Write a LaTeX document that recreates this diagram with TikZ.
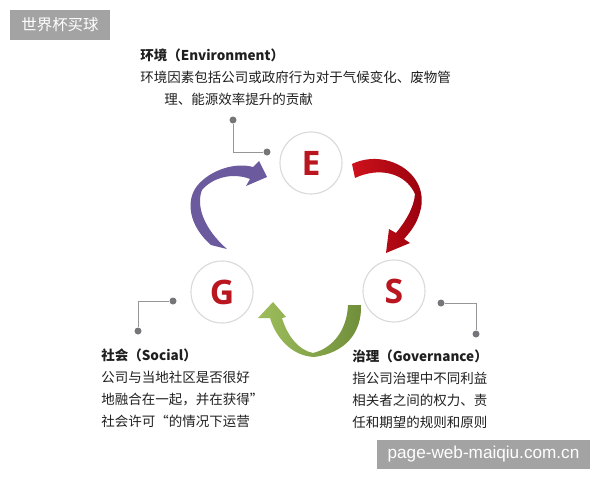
\documentclass[tikz,border=0pt]{standalone}
\usepackage{fontspec}
\usepackage{xcolor}
\newfontfamily\cjk{Noto Sans CJK SC}
\newfontfamily\letterfont{Open Sans}
\newfontfamily\webfont{Liberation Sans}
\definecolor{esgred}{RGB}{185,22,32}
\definecolor{ringgray}{RGB}{218,218,218}
\definecolor{leadgray}{RGB}{150,150,150}
\definecolor{dotgray}{RGB}{118,118,122}
\definecolor{markgray}{RGB}{163,163,163}
\definecolor{esgpurple}{RGB}{108,90,158}
\definecolor{redlight}{RGB}{205,18,28}
\definecolor{reddark}{RGB}{150,0,12}
\definecolor{greenlight}{RGB}{158,190,92}
\definecolor{greendark}{RGB}{112,142,58}
\tikzstyle{esg state}=[
    draw = ringgray,
    line width = 0.8pt,
    fill = white,
    minimum size = 15.5mm,
    circle,
    text = esgred,
    font = \letterfont\bfseries\fontsize{24}{24}\selectfont
]

\begin{document}
\begin{tikzpicture}[x=0.025cm, y=-0.025cm,
    dot/.style = {fill=dotgray, circle, inner sep=0pt, minimum size=1.75mm},
    lead/.style = {draw=leadgray, line width=0.7pt},
    info/.style = {anchor=north west, inner sep=0pt, align=left, text=black!88,
                   font=\cjk\fontsize{9.6}{15.6}\selectfont},
    markbox/.style = {fill=markgray, text=white, inner sep=0pt}]
        \useasboundingbox (0,0) rectangle (600,480);

        \node[markbox, minimum width=25mm, minimum height=7.5mm,
              font=\cjk\fontsize{11}{11}\selectfont] (mark1) at (60,25) {世界杯买球};
        \node[markbox, minimum width=53.3mm, minimum height=7.3mm,
              font=\webfont\fontsize{12.2}{12.2}\selectfont] (mark2) at (483.5,454.5) {page-web-maiqiu.com.cn};

        \node[esg state] (e) at (311,163) {E};
        \node[esg state] (s) at (394,291) {S};
        \node[esg state] (g) at (222,292) {G};

        \node[dot] (e1) at (233,120) {};
        \node[dot] (e2) at (267,152) {};
        \node[dot] (g1) at (173,301) {};
        \node[dot] (g2) at (138,331) {};
        \node[dot] (s1) at (441,303) {};
        \node[dot] (s2) at (476,334) {};
        \draw[lead] (e1) |- (e2);
        \draw[lead] (g1) -| (g2);
        \draw[lead] (s1) -| (s2);

        \path[left color=redlight, right color=reddark]
            (352,164) .. controls (385,148) and (428,172) .. (421,208)
            .. controls (418,222) and (412,230) .. (404,239)
            -- (410,243) -- (386,253) -- (389,229) -- (396,233)
            .. controls (405,222) and (414,208) .. (415,194)
            .. controls (405,172) and (378,167) .. (355,178) -- cycle;
        \fill[esgpurple]
            (211,245) .. controls (188,225) and (186,200) .. (197,186)
            .. controls (210,170) and (235,162) .. (253,167)
            -- (259,161) -- (267,177) -- (246,186) -- (250,179)
            .. controls (232,172) and (212,178) .. (202,190)
            .. controls (196,205) and (203,228) .. (227,249) -- cycle;
        \path[left color=greenlight, right color=greendark]
            (348,305) -- (361,305) .. controls (362,333) and (345,353) .. (314,357)
            .. controls (292,356) and (276,338) .. (270,318)
            -- (258,318) -- (273,302) -- (286,317) -- (282,318)
            .. controls (287,335) and (298,350) .. (313,353)
            .. controls (333,348) and (347,330) .. (348,305) -- cycle;

        \node[info] (et) at (140,49) {\bfseries 环境（Environment）\\
            环境因素包括公司或政府行为对于气候变化、废物管\\
            \hspace*{6mm}理、能源效率提升的贡献};
        \node[info] (gt) at (101,349) {\bfseries 社会（Social）\\
            公司与当地社区是否很好\\
            地融合在一起，并在获得”\\
            社会许可“的情况下运营};
        \node[info] (st) at (352,350) {\bfseries 治理（Governance）\\
            指公司治理中不同利益\\
            相关者之间的权力、责\\
            任和期望的规则和原则};

    \end{tikzpicture}
\end{document}
